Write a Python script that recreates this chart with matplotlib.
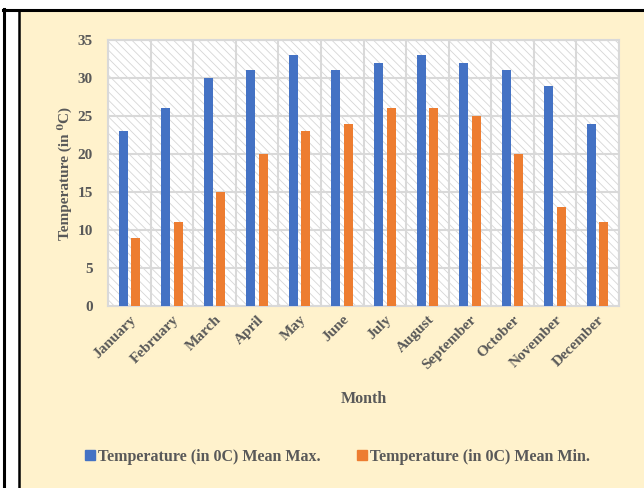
import matplotlib.pyplot as plt
import numpy as np
from matplotlib.patches import Rectangle
from matplotlib.lines import Line2D

months = ["January", "February", "March", "April", "May", "June", "July",
          "August", "September", "October", "November", "December"]
mean_max = [23, 26, 30, 31, 33, 31, 32, 33, 32, 31, 29, 24]
mean_min = [9, 11, 15, 20, 23, 24, 26, 26, 25, 20, 13, 11]
yticks = [0, 5, 10, 15, 20, 25, 30, 35]

blue = "#4472C4"
orange = "#ED7D31"
beige = "#FFF2CC"
grid_c = "#D9D9D9"
text_c = "#595959"

plt.rcParams['font.family'] = ['Liberation Serif', 'DejaVu Serif']
plt.rcParams['font.weight'] = 'bold'
plt.rcParams['axes.labelweight'] = 'bold'
plt.rcParams['hatch.linewidth'] = 0.6
plt.rcParams['hatch.color'] = "#D6D6D6"

W, H = 644, 488
fig = plt.figure(figsize=(W/100, H/100), dpi=100, facecolor="white")

# frame: outer black border, inner black line, beige chart area
def fx(px): return px / W
def fy(py): return 1 - py / H

fig.patches.append(Rectangle((fx(20), 0), fx(W) - fx(20), fy(11), transform=fig.transFigure,
                             facecolor=beige, edgecolor="none", zorder=-10))
fig.add_artist(Line2D([fx(4), fx(4)], [0, fy(9)], color="black", lw=2.2, transform=fig.transFigure))
fig.add_artist(Line2D([fx(3), 1], [fy(9.5), fy(9.5)], color="black", lw=2.2, transform=fig.transFigure))
fig.add_artist(Line2D([fx(18.5), fx(18.5)], [0, fy(10)], color="black", lw=1.8, transform=fig.transFigure))

ax = fig.add_axes([fx(108), fy(306), fx(619) - fx(108), fy(40) - fy(306)])
ax.set_zorder(5)
ax.set_facecolor("white")
ax.add_patch(Rectangle((0, 0), 1, 1, transform=ax.transAxes, facecolor="white",
                       edgecolor="#D6D6D6", hatch="\\\\\\\\", lw=0, zorder=0))

x = np.arange(len(months))
bw = 0.21
off = 0.147
ax.bar(x - off, mean_max, bw, color=blue, zorder=3)
ax.bar(x + off, mean_min, bw, color=orange, zorder=3)

ax.set_xlim(-0.5, len(months) - 0.5)
ax.set_ylim(0, 35)
ax.set_yticks(yticks)
ax.set_xticks(x)
ax.set_xticks(np.arange(-0.5, len(months)), minor=True)
ax.set_xticklabels(months, rotation=45, ha="right", rotation_mode="anchor",
                   fontsize=11, color=text_c)
ax.tick_params(axis="y", labelsize=11, labelcolor=text_c, length=0, pad=11)
ax.tick_params(axis="x", which="both", length=0, pad=5)
ax.set_axisbelow(True)
ax.grid(axis="y", color=grid_c, lw=1.5)
ax.grid(axis="x", which="minor", color=grid_c, lw=1.5)
for s in ax.spines.values():
    s.set_color(grid_c)
    s.set_linewidth(1.5)

ax.set_ylabel("Temperature (in \u2070C)", fontsize=11, color=text_c, labelpad=4)
ax.set_xlabel("Month", fontsize=11.5, color=text_c, labelpad=14)

handles = [Line2D([], [], marker="s", ls="none", color=blue, markersize=6.5),
           Line2D([], [], marker="s", ls="none", color=orange, markersize=6.5)]
fig.legend(handles, ["Temperature (in 0C) Mean Max.", "Temperature (in 0C) Mean Min."],
           loc="center", bbox_to_anchor=(fx(337), fy(457)), ncol=2, frameon=False,
           fontsize=11.5, labelcolor=text_c, handletextpad=0.1, columnspacing=2.2,
           handlelength=0.8)

fig.savefig("out.png", dpi=100, facecolor="white")
